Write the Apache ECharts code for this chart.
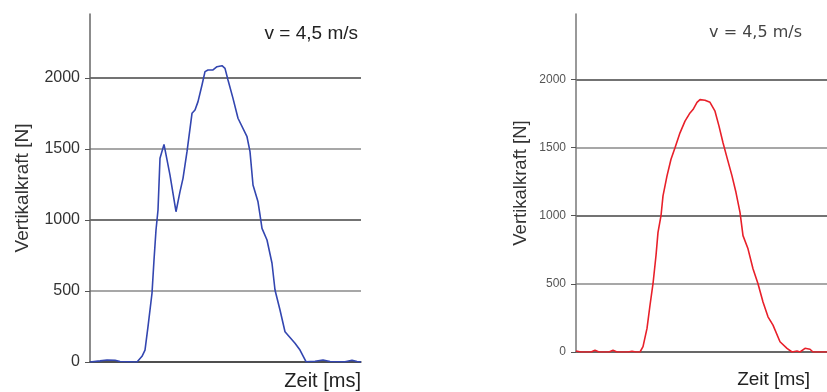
<!DOCTYPE html>
<html>
<head>
<meta charset="utf-8">
<script src="https://cdn.jsdelivr.net/npm/echarts@6/dist/echarts.min.js"></script>
<style>
  html, body { margin: 0; padding: 0; background: #fff; }
  #chart { width: 827px; height: 392px; }
</style>
</head>
<body>
<div id="chart"></div>
<script>
// left measurement (blue) - time in ms, force in N
const leftTime = [0, 10, 17, 25, 30, 40, 47, 52, 55, 58, 62, 64, 66, 68, 70, 74, 80, 86, 90, 93, 97, 102, 105, 108, 112, 115, 118, 123, 127, 132, 135, 138, 143, 148, 157, 160, 163, 168, 170, 172, 177, 182, 185, 190, 195, 205, 210, 216, 225, 233, 240, 255, 262, 267, 271];
const leftForce = [0, 8, 14, 12, 3, 2, 0, 40, 84, 249, 484, 718, 929, 1070, 1434, 1532, 1316, 1058, 1199, 1293, 1481, 1751, 1774, 1833, 1950, 2044, 2056, 2056, 2079, 2086, 2067, 1985, 1856, 1716, 1586, 1481, 1246, 1128, 1035, 941, 859, 695, 507, 366, 213, 132, 84, 2, 5, 14, 3, 2, 12, 3, 0];

// right measurement (red)
const rightTime = [0, 5, 15, 19, 23, 33, 37, 41, 52, 56, 60, 64, 67, 71, 74, 77, 80, 82, 85, 87, 91, 95, 99, 104, 109, 114, 117, 121, 124, 129, 134, 139, 143, 147, 151, 156, 160, 164, 167, 172, 177, 182, 187, 192, 197, 204, 211, 216, 221, 224, 229, 234, 237, 251];
const rightForce = [8, 0, 0, 12, 0, 0, 12, 0, 0, 6, 0, 0, 39, 173, 343, 501, 708, 878, 1000, 1146, 1292, 1414, 1499, 1608, 1694, 1754, 1779, 1832, 1852, 1847, 1832, 1767, 1657, 1535, 1426, 1292, 1170, 1024, 854, 757, 611, 501, 367, 258, 197, 75, 27, 0, 7, 0, 27, 20, 0, 0];

const yTicks = [0, 500, 1000, 1500, 2000];
const speedLabel = 'v = 4,5 m/s';

const chart = echarts.init(document.getElementById('chart'));

function yAxisFor(gridIndex, max, fontSize, nameGap, labelColor, axisColor) {
  return {
    type: 'value',
    gridIndex,
    min: 0,
    max,
    interval: 500,
    name: 'Vertikalkraft [N]',
    nameLocation: 'middle',
    nameGap,
    nameTextStyle: { fontSize: gridIndex === 0 ? 19 : 18.5, color: '#333', fontFamily: 'Liberation Sans' },
    axisLine: { show: true, lineStyle: { color: axisColor, width: 1.5 } },
    axisTick: { show: true, length: 5, customValues: yTicks, lineStyle: { color: '#555' } },
    axisLabel: {
      customValues: yTicks, fontSize, color: labelColor, margin: 10, fontFamily: 'Liberation Sans',
      formatter: v => String(v)
    },
    splitLine: { show: true, lineStyle: { color: ['#444', '#8a8a8a'], width: 1.5 } }
  };
}

function xAxisFor(gridIndex, max, nameGap, padTop, axisColor) {
  return {
    type: 'value',
    gridIndex,
    min: 0,
    max,
    name: 'Zeit [ms]',
    nameLocation: 'end',
    nameGap,
    nameTextStyle: { fontSize: gridIndex === 0 ? 20 : 19, color: '#222', align: 'right', verticalAlign: 'top', padding: [padTop, 0, 0, 0], fontFamily: 'Liberation Sans' },
    axisLine: { show: true, lineStyle: { color: axisColor, width: 1.5 } },
    axisTick: { show: false },
    axisLabel: { show: false },
    splitLine: { show: false }
  };
}

const option = {
  animation: false,
  backgroundColor: '#fff',
  title: [
    { text: speedLabel, right: 469, top: 24, padding: 0,
      textStyle: { fontSize: 19, fontWeight: 'normal', color: '#222', fontFamily: 'Liberation Sans' } },
    { text: speedLabel, right: 25, top: 25, padding: 0,
      textStyle: { fontSize: 16, fontWeight: 'normal', color: '#444', fontFamily: 'DejaVu Sans' } }
  ],
  grid: [
    { left: 90, right: 466, top: 14, bottom: 30 },
    { left: 576, right: 0, top: 14, bottom: 40 }
  ],
  xAxis: [
    xAxisFor(0, 271, 0, 9, '#444'),
    xAxisFor(1, 251, -17, 18, '#666')
  ],
  yAxis: [
    yAxisFor(0, 2450, 16, 58, '#333', '#666'),
    yAxisFor(1, 2480, 12, 46, '#555', '#777')
  ],
  series: [
    {
      type: 'line',
      xAxisIndex: 0,
      yAxisIndex: 0,
      data: leftTime.map((t, i) => [t, leftForce[i]]),
      showSymbol: false,
      lineStyle: { color: '#3346b0', width: 1.6 }
    },
    {
      type: 'line',
      xAxisIndex: 1,
      yAxisIndex: 1,
      data: rightTime.map((t, i) => [t, rightForce[i]]),
      showSymbol: false,
      lineStyle: { color: '#e8202a', width: 1.6 }
    }
  ]
};

chart.setOption(option);
</script>
</body>
</html>
